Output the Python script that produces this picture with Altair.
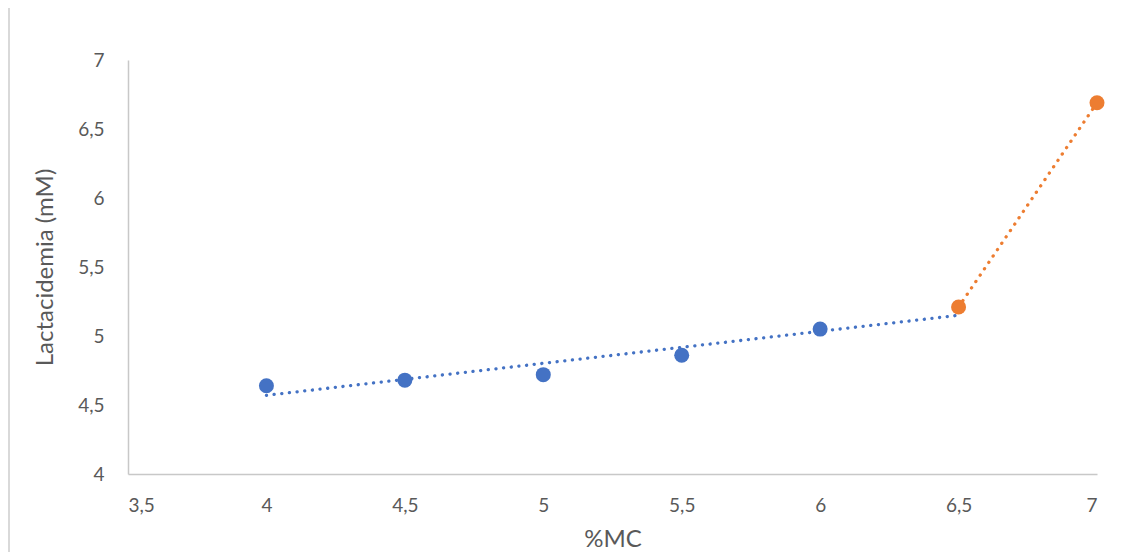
import altair as alt
import pandas as pd

# Data
x_blue = [4, 4.5, 5, 5.5, 6]
y_blue = [4.64, 4.68, 4.72, 4.86, 5.05]
x_orange = [6.5, 7]
y_orange = [5.21, 6.69]
trend_blue_x = [4, 6.5]
trend_blue_y = [4.57, 5.15]
trend_orange_x = [6.5, 7]
trend_orange_y = [5.21, 6.69]
x_ticks = [3.5, 4, 4.5, 5, 5.5, 6, 6.5, 7]
y_ticks = [4, 4.5, 5, 5.5, 6, 6.5, 7]

BLUE = "#4472C4"
ORANGE = "#ED7D31"
FONT = "Lato"
TXT = "#595959"

pts = pd.DataFrame({
    "x": x_blue + x_orange,
    "y": y_blue + y_orange,
    "s": ["blue"] * len(x_blue) + ["orange"] * len(x_orange),
})
trend = pd.DataFrame({
    "x": trend_blue_x + trend_orange_x,
    "y": trend_blue_y + trend_orange_y,
    "s": ["blue"] * len(trend_blue_x) + ["orange"] * len(trend_orange_x),
})

label_expr = "replace(toString(datum.value), '.', ',')"

xenc = alt.X("x:Q",
             scale=alt.Scale(domain=[3.5, 7], nice=False, zero=False),
             axis=alt.Axis(values=x_ticks, labelExpr=label_expr, title="%MC",
                           ticks=False, grid=False, domainColor="#C8C8C8", domainWidth=1.5,
                           labelFont=FONT, labelFontSize=19, labelColor=TXT, labelPadding=22,
                           titleFont=FONT, titleFontSize=24, titleColor=TXT,
                           titleFontWeight="normal", titlePadding=12))
yenc = alt.Y("y:Q",
             scale=alt.Scale(domain=[4, 7], nice=False, zero=False),
             axis=alt.Axis(values=y_ticks, labelExpr=label_expr, title="Lactacidemia (mM)",
                           ticks=False, grid=False, domainColor="#C8C8C8", domainWidth=1.5,
                           labelFont=FONT, labelFontSize=19, labelColor=TXT, labelPadding=24,
                           titleFont=FONT, titleFontSize=24, titleColor=TXT,
                           titleFontWeight="normal", titlePadding=20))
color = alt.Color("s:N", scale=alt.Scale(domain=["blue", "orange"], range=[BLUE, ORANGE]),
                  legend=None)

lines = alt.Chart(trend).mark_line(
    strokeDash=[0.1, 7.6], strokeCap="round", strokeWidth=3.3
).encode(x=xenc, y=yenc, color=color, detail="s:N")

points = alt.Chart(pts).mark_circle(size=225, opacity=1).encode(
    x="x:Q", y="y:Q", color=color
)

border = alt.Chart(pd.DataFrame({"a": [0]})).mark_rule(
    color="#D9D9D9", strokeWidth=2
).encode(x=alt.value(-119), y=alt.value(-52), y2=alt.value(600))

chart = alt.layer(border, lines, points).properties(
    width=969, height=414,
    autosize=alt.AutoSizeParams(type="none"),
    padding={"left": 120, "top": 52, "right": 33, "bottom": 78},
).configure_view(stroke=None)

chart.save("out.html", embed_options={"renderer": "svg", "actions": False})
